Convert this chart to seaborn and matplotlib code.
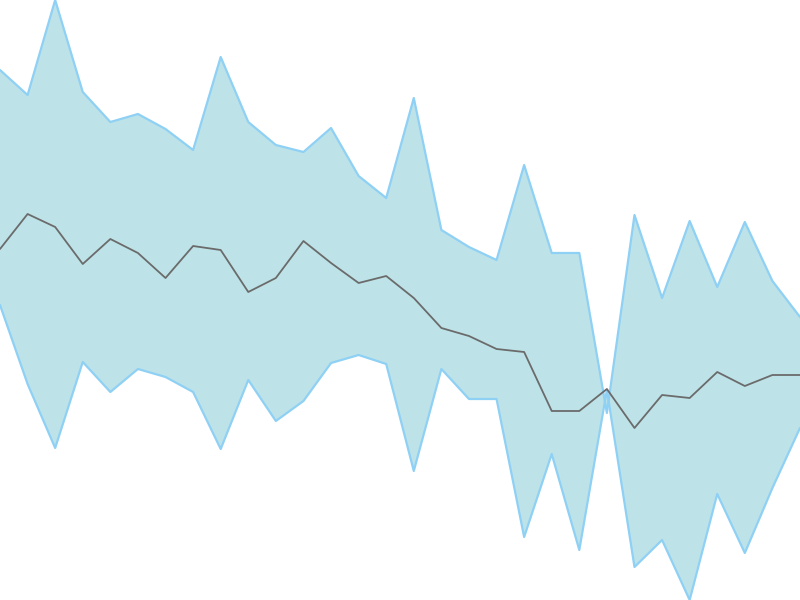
import matplotlib
matplotlib.use("Agg")
import matplotlib.pyplot as plt
import seaborn as sns
import pandas as pd
import numpy as np

# values (pixel rows converted: value = 600 - row)
x = list(range(30))
upper_px = [70, 95, 0, 92, 122, 114, 129, 150, 57, 122, 145, 152, 128, 176, 198,
            98, 230, 247, 260, 165, 253, 253, 413, 215, 298, 221, 287, 222, 281, 317]
mid_px = [249, 214, 227, 264, 239, 253, 278, 246, 250, 292, 278, 241, 263, 283, 276,
          298, 328, 336, 349, 352, 411, 411, 389, 428, 395, 398, 372, 386, 375, 375]
lower_px = [305, 384, 448, 362, 392, 369, 377, 392, 449, 380, 421, 401, 363, 355, 364,
            471, 369, 399, 399, 537, 454, 550, 390, 567, 540, 600, 494, 553, 488, 428]

upper = [600 - v for v in upper_px]
mid = [600 - v for v in mid_px]
lower = [600 - v for v in lower_px]

df = pd.DataFrame({"x": x, "upper": upper, "mid": mid, "lower": lower})

sns.set_theme(style="white")
fig = plt.figure(figsize=(8, 6), dpi=100)
ax = fig.add_axes([0, 0, 1, 1])
ax.fill_between(df["x"], df["lower"], df["upper"], color="#bde3e8", linewidth=0)
sns.lineplot(data=df, x="x", y="upper", ax=ax, color="#8fd0f5", linewidth=1.6)
sns.lineplot(data=df, x="x", y="lower", ax=ax, color="#8fd0f5", linewidth=1.6)
sns.lineplot(data=df, x="x", y="mid", ax=ax, color="#6b6b6b", linewidth=1.3)
ax.set_xlim(0, 29)
ax.set_ylim(0, 600)
ax.axis("off")
fig.savefig("out.png", dpi=100)
